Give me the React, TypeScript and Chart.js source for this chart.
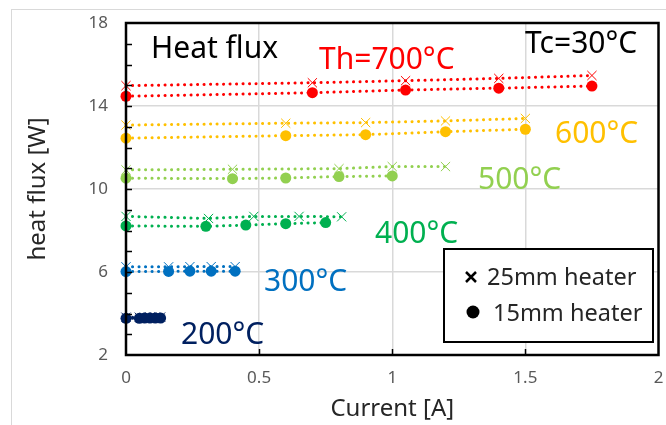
import { useEffect, useRef } from 'react';
import { Chart, registerables } from 'chart.js';

Chart.register(...registerables);

// ---- data ----
const seriesNames = ['700', '600', '500', '400', '300', '200'];
const seriesColors = ['#FF0000', '#FFC000', '#92D050', '#00B050', '#0070C0', '#002060'];
const seriesLabels = ['Th=700°C', '600°C', '500°C', '400°C', '300°C', '200°C'];

const current700_25 = [0, 0.7, 1.05, 1.4, 1.75];
const flux700_25 = [14.98, 15.12, 15.22, 15.33, 15.47];
const current700_15 = [0, 0.7, 1.05, 1.4, 1.75];
const flux700_15 = [14.47, 14.64, 14.77, 14.86, 14.96];

const current600_25 = [0, 0.6, 0.9, 1.2, 1.5];
const flux600_25 = [13.08, 13.17, 13.2, 13.28, 13.4];
const current600_15 = [0, 0.6, 0.9, 1.2, 1.5];
const flux600_15 = [12.45, 12.57, 12.62, 12.76, 12.88];

const current500_25 = [0, 0.4, 0.8, 1.0, 1.2];
const flux500_25 = [10.92, 10.95, 10.98, 11.08, 11.08];
const current500_15 = [0, 0.4, 0.6, 0.8, 1.0];
const flux500_15 = [10.52, 10.5, 10.53, 10.6, 10.63];

const current400_25 = [0, 0.31, 0.48, 0.65, 0.81];
const flux400_25 = [8.68, 8.58, 8.68, 8.68, 8.66];
const current400_15 = [0, 0.3, 0.45, 0.6, 0.75];
const flux400_15 = [8.22, 8.2, 8.26, 8.33, 8.38];

const current300_25 = [0, 0.16, 0.24, 0.32, 0.41];
const flux300_25 = [6.25, 6.25, 6.26, 6.26, 6.26];
const current300_15 = [0, 0.16, 0.24, 0.32, 0.41];
const flux300_15 = [6.02, 6.03, 6.04, 6.04, 6.04];

const current200_25 = [0, 0.05, 0.07, 0.09, 0.11, 0.13];
const flux200_25 = [3.82, 3.82, 3.82, 3.83, 3.83, 3.83];
const current200_15 = [0, 0.05, 0.07, 0.09, 0.11, 0.13];
const flux200_15 = [3.77, 3.77, 3.78, 3.78, 3.78, 3.78];

const xTickMin = 0;
const xTickMax = 2;
const xTickStep = 0.5;
const yTickMin = 2;
const yTickMax = 18;
const yTickStep = 4;

const xs25 = [current700_25, current600_25, current500_25, current400_25, current300_25, current200_25];
const ys25 = [flux700_25, flux600_25, flux500_25, flux400_25, flux300_25, flux200_25];
const xs15 = [current700_15, current600_15, current500_15, current400_15, current300_15, current200_15];
const ys15 = [flux700_15, flux600_15, flux500_15, flux400_15, flux300_15, flux200_15];

const FONT = "'Noto Sans', sans-serif";

function pairs(xs: number[], ys: number[]) {
  return xs.map((x, i) => ({ x, y: ys[i] }));
}

const decorPlugin = {
  id: 'decor',
  beforeDraw(chart: any) {
    const ctx = chart.ctx;
    ctx.save();
    ctx.fillStyle = '#FFFFFF';
    ctx.fillRect(0, 0, chart.width, chart.height);
    ctx.strokeStyle = '#D9D9D9';
    ctx.lineWidth = 1;
    ctx.strokeRect(11.5, 9.5, 800, 600);
    ctx.restore();
  },
  afterDraw(chart: any) {
    const ctx = chart.ctx;
    const { left, right, top, bottom } = chart.chartArea;
    const xs = chart.scales.x;
    const ys = chart.scales.y;
    ctx.save();
    // plot border
    ctx.strokeStyle = '#000000';
    ctx.lineWidth = 2.5;
    ctx.strokeRect(left, top, right - left, bottom - top);
    // minor ticks on y
    ctx.lineWidth = 1.5;
    for (let v = yTickMin + 1; v < yTickMax; v += 1) {
      const py = Math.round(ys.getPixelForValue(v)) + 0.5;
      ctx.beginPath();
      ctx.moveTo(left - 1, py);
      ctx.lineTo(left + 6, py);
      ctx.stroke();
    }
    for (let v = xTickMin + xTickStep; v < xTickMax; v += xTickStep) {
      const px = Math.round(xs.getPixelForValue(v)) + 0.5;
      ctx.beginPath();
      ctx.moveTo(px, bottom + 1);
      ctx.lineTo(px, bottom - 6);
      ctx.stroke();
    }
    // annotations
    ctx.textBaseline = 'alphabetic';
    ctx.textAlign = 'left';
    ctx.font = `30px ${FONT}`;
    ctx.fillStyle = '#000000';
    ctx.fillText('Heat flux', 151, 58);
    ctx.fillText('Tc=30°C', 525, 53);
    const labelPos = [
      [319, 69],
      [555, 143],
      [478, 189],
      [375, 243],
      [264, 291],
      [181, 344],
    ];
    seriesLabels.forEach((t, i) => {
      ctx.fillStyle = seriesColors[i];
      ctx.fillText(t, labelPos[i][0], labelPos[i][1]);
    });
    // legend box
    ctx.fillStyle = '#FFFFFF';
    ctx.fillRect(444, 249, 209, 93);
    ctx.strokeStyle = '#000000';
    ctx.lineWidth = 2;
    ctx.strokeRect(444, 249, 209, 93);
    ctx.lineWidth = 2.5;
    ctx.beginPath();
    ctx.moveTo(466, 272);
    ctx.lineTo(476, 282);
    ctx.moveTo(476, 272);
    ctx.lineTo(466, 282);
    ctx.stroke();
    ctx.fillStyle = '#000000';
    ctx.beginPath();
    ctx.arc(473, 312, 6.5, 0, Math.PI * 2);
    ctx.fill();
    ctx.fillStyle = '#262626';
    ctx.font = `23.5px ${FONT}`;
    ctx.fillText('25mm heater', 487, 285);
    ctx.fillText('15mm heater', 493, 321);
    ctx.restore();
  },
};

export default function App() {
  const ref = useRef<HTMLCanvasElement | null>(null);
  useEffect(() => {
    if (!ref.current) return;
    const datasets: any[] = [];
    seriesNames.forEach((name, i) => {
      datasets.push({
        label: name + ' 25mm',
        data: pairs(xs25[i], ys25[i]),
        showLine: true,
        clip: false,
        borderColor: seriesColors[i],
        backgroundColor: seriesColors[i],
        borderWidth: 3,
        borderDash: [0.1, 6.4],
        borderCapStyle: 'round',
        pointStyle: 'crossRot',
        pointRadius: 6.5,
        pointBorderWidth: 1,
        pointBorderColor: seriesColors[i],
        order: 2,
      });
      datasets.push({
        label: name + ' 15mm',
        data: pairs(xs15[i], ys15[i]),
        showLine: true,
        clip: false,
        borderColor: seriesColors[i],
        backgroundColor: seriesColors[i],
        borderWidth: 3,
        borderDash: [0.1, 6.4],
        borderCapStyle: 'round',
        pointStyle: 'circle',
        pointRadius: 5.5,
        pointBorderWidth: 0,
        pointBackgroundColor: seriesColors[i],
        order: 1,
      });
    });
    const chart = new Chart(ref.current, {
      type: 'scatter',
      data: { datasets },
      options: {
        animation: false,
        responsive: false,
        layout: { padding: { left: 0, right: 5, top: 23, bottom: 0 } },
        plugins: { legend: { display: false }, tooltip: { enabled: false } },
        scales: {
          x: {
            type: 'linear',
            min: xTickMin,
            max: xTickMax,
            ticks: {
              stepSize: xTickStep,
              color: '#595959',
              font: { family: FONT, size: 17 },
              padding: 13,
              callback: (v: any) => String(Number(v)),
            },
            grid: {
              drawTicks: false,
              lineWidth: 1.5,
              color: (c: any) => (c.tick && (c.tick.value === xTickMin || c.tick.value === xTickMax) ? 'rgba(0,0,0,0)' : '#D9D9D9'),
            },
            border: { display: false },
            title: { display: true, text: 'Current [A]', color: '#262626', font: { family: FONT, size: 24 }, padding: { top: 0, bottom: 1 } },
            afterFit: (s: any) => { s.height = 70; s.paddingLeft = 0; s.paddingRight = 0; },
          },
          y: {
            type: 'linear',
            min: yTickMin,
            max: yTickMax,
            ticks: {
              stepSize: yTickStep,
              color: '#595959',
              font: { family: FONT, size: 17 },
              padding: 18,
              callback: (v: any) => String(Number(v)),
            },
            grid: {
              drawTicks: false,
              lineWidth: 1.5,
              color: (c: any) => (c.tick && (c.tick.value === yTickMin || c.tick.value === yTickMax) ? 'rgba(0,0,0,0)' : '#D9D9D9'),
            },
            border: { display: false },
            title: { display: true, text: 'heat flux [W]', color: '#262626', font: { family: FONT, size: 24 }, padding: { top: 24, bottom: 0 } },
            afterFit: (s: any) => { s.width = 126; s.paddingTop = 0; s.paddingBottom = 0; },
          },
        },
      } as any,
      plugins: [decorPlugin],
    });
    return () => chart.destroy();
  }, []);
  return (
    <div style={{ position: 'absolute', left: 0, top: 0, width: 666, height: 425 }}>
      <canvas ref={ref} width={666} height={425} style={{ width: 666, height: 425 }} />
    </div>
  );
}
